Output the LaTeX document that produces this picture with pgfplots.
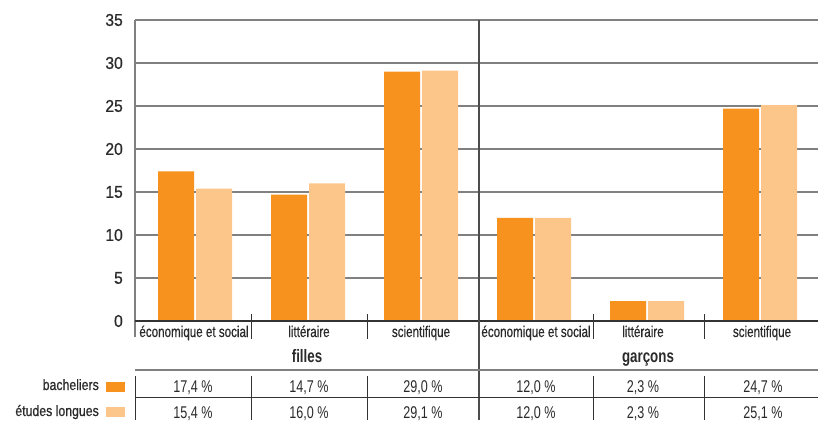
\documentclass[border=0pt]{standalone}
\usepackage{pgfplots}
\pgfplotsset{compat=1.18}
\usepackage{fontspec}
\setmainfont{Liberation Sans}
\newfontfamily\cond[FakeStretch=0.74]{Liberation Sans}
\newfontfamily\condm[FakeStretch=0.75,FakeBold=0.6]{Liberation Sans}
\newfontfamily\condb[FakeStretch=0.82,FakeBold=0.8]{Liberation Sans}
\newfontfamily\tickf[FakeStretch=0.92,FakeBold=0.8]{Liberation Sans}
\definecolor{orA}{HTML}{F7921E}
\definecolor{orB}{HTML}{FCC68B}
\definecolor{gridc}{HTML}{808080}
\definecolor{txt}{HTML}{2A2A2A}
\begin{document}
\begin{tikzpicture}
\useasboundingbox (-135pt,-99pt) rectangle (683pt,321pt);
\begin{axis}[
  scale only axis, width=683pt, height=301pt, at={(0pt,0pt)}, anchor=south west,
  xmin=-0.531, xmax=5.513, ymin=0, ymax=35,
  ytick={0,5,...,35}, xtick=\empty,
  ymajorgrids, grid style={draw=gridc, line width=1.3pt},
  axis line style={draw=none}, major tick length=0pt,
  ybar, bar width=36pt, clip=false,
  /pgf/number format/assume math mode=true,
  yticklabel style={font=\tickf\fontsize{17}{17}\selectfont, text=txt, anchor=east, inner sep=0pt, xshift=-12pt},
]
\addplot[fill=orA, draw=none, bar shift=-19pt] coordinates {(0,17.4) (1,14.7) (2,29.0) (3,12.0) (4,2.3) (5,24.7)};
\addplot[fill=orB, draw=none, bar shift=19pt] coordinates {(0,15.4) (1,16.0) (2,29.1) (3,12.0) (4,2.3) (5,25.1)};
\end{axis}
% axis lines
\draw[gridc, line width=1.3pt] (0pt,301pt) -- (0pt,-16pt);
\draw[black!80, line width=1.3pt] (0pt,0pt) -- (683pt,0pt);
\foreach \x in {116,232,458,569} \draw[black!80, line width=1pt] (\x pt,7pt) -- (\x pt,-18pt);
\draw[black!70, line width=1.5pt] (344pt,301pt) -- (344pt,-99pt);
% category labels
\foreach \x/\t in {59/économique et social, 174/littéraire, 286/scientifique, 401/économique et social, 508/littéraire, 627/scientifique}
  \node[anchor=base, inner sep=0pt, text=txt, font=\condm\fontsize{15.5}{16}\selectfont] at (\x pt,-16pt) {\t};
\node[anchor=base, inner sep=0pt, text=txt, font=\cond\bfseries\fontsize{18}{18}\selectfont] at (172pt,-41pt) {filles};
\node[anchor=base, inner sep=0pt, text=txt, font=\cond\bfseries\fontsize{18}{18}\selectfont] at (513pt,-41pt) {garçons};
% table
\draw[gridc, line width=1.5pt] (0pt,-49pt) -- (683pt,-49pt);
\draw[black!80, line width=1pt] (0pt,-76pt) -- (683pt,-76pt);
\foreach \x in {0,116,232,458,569} \draw[black!80, line width=1pt] (\x pt,-55pt) -- (\x pt,-99pt);
\foreach \x/\a/\b in {58/{17,4 \%}/{15,4 \%}, 174/{14,7 \%}/{16,0 \%}, 288/{29,0 \%}/{29,1 \%}, 401/{12,0 \%}/{12,0 \%}, 508/{2,3 \%}/{2,3 \%}, 628/{24,7 \%}/{25,1 \%}}{
  \node[anchor=base, inner sep=0pt, text=txt, font=\cond\fontsize{17}{17}\selectfont] at (\x pt,-71pt) {\a};
  \node[anchor=base, inner sep=0pt, text=txt, font=\cond\fontsize{17}{17}\selectfont] at (\x pt,-97pt) {\b};
}
% legend
\fill[orA] (-29pt,-61pt) rectangle (-10pt,-71pt);
\fill[orB] (-29pt,-86pt) rectangle (-10pt,-96pt);
\node[anchor=base east, inner sep=0pt, text=txt, font=\condb\fontsize{15}{15}\selectfont] at (-36pt,-69pt) {bacheliers};
\node[anchor=base east, inner sep=0pt, text=txt, font=\condb\fontsize{15}{15}\selectfont] at (-36pt,-95pt) {études longues};
\end{tikzpicture}
\end{document}
